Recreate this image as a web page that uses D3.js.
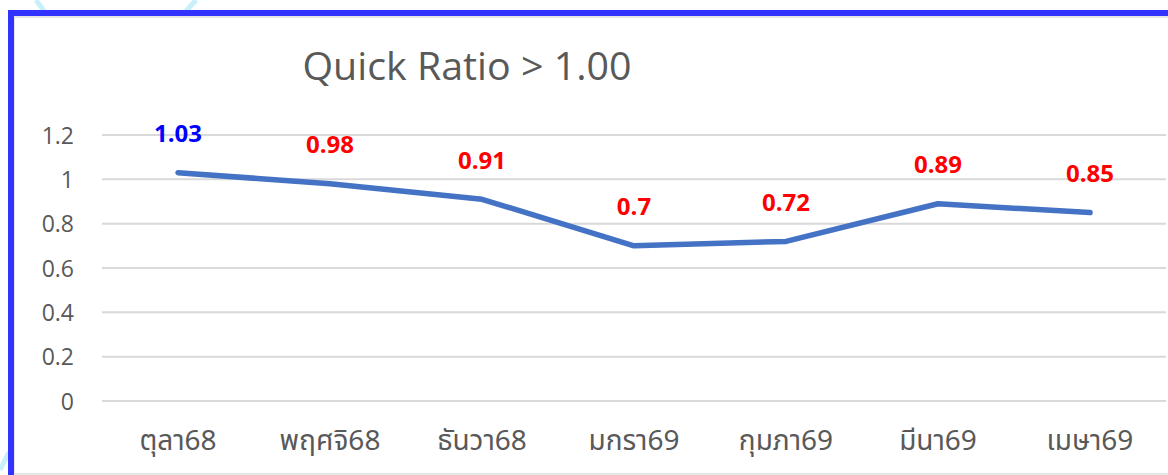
<!DOCTYPE html>
<html><head><meta charset="utf-8">
<script src="https://cdn.jsdelivr.net/npm/d3@7"></script>
<style>
html,body{margin:0;padding:0;background:#fff;}
svg{display:block;}
</style></head>
<body>
<svg id="chart" width="1168" height="475"></svg>
<script>
const categories = ["ตุลา68","พฤศจิ68","ธันวา68","มกรา69","กุมภา69","มีนา69","เมษา69"];
const values = [1.03,0.98,0.91,0.70,0.72,0.89,0.85];
const labels = ["1.03","0.98","0.91","0.7","0.72","0.89","0.85"];
const labelColors = ["#0000FF","#FF0000","#FF0000","#FF0000","#FF0000","#FF0000","#FF0000"];
const yTicks = [0,0.2,0.4,0.6,0.8,1,1.2];
const yTickLabels = ["0","0.2","0.4","0.6","0.8","1","1.2"];
const title = "Quick Ratio > 1.00";

const svg = d3.select("#chart");
const W = 1168, H = 475;

// decorative background strokes
const deco = [[[36,0],[44,11]],[[196,0],[186,11]],[[0,470],[9,452]]];
deco.forEach(d=>svg.append("path").attr("d",d3.line()(d)).attr("stroke","#c8f0fb").attr("stroke-width",5).attr("fill","none"));

// frame
svg.append("rect").attr("x",14).attr("y",16).attr("width",W).attr("height",457).attr("fill","#fff");
svg.append("path").attr("d","M14,474 V17 H1168").attr("stroke","#e6e6e6").attr("stroke-width",2).attr("fill","none");
svg.append("path").attr("d","M14,474 H1168").attr("stroke","#e6e6e6").attr("stroke-width",2).attr("fill","none");
svg.append("path").attr("d","M11,475 V13 H1168").attr("stroke","#3333FF").attr("stroke-width",6).attr("fill","none");

const x = d3.scaleBand().domain(categories).range([102,1166]);
const y = d3.scaleLinear().domain([0,1.2]).range([401,135]);

// gridlines
svg.append("g").selectAll("line").data(yTicks).join("line")
  .attr("x1",102).attr("x2",1166)
  .attr("y1",d=>y(d)).attr("y2",d=>y(d))
  .attr("stroke","#d9d9d9").attr("stroke-width",2);

// y axis labels
const yAxis = d3.axisLeft(y).tickValues(yTicks).tickFormat((d,i)=>yTickLabels[i]).tickSize(0).tickPadding(0);
const ya = svg.append("g").attr("transform","translate(74,0)").call(yAxis);
ya.select(".domain").remove();
ya.selectAll("text").attr("font-family","'Open Sans','Noto Sans',sans-serif").attr("font-size",23).attr("fill","#595959").attr("dy","0.35em");

// x axis labels
const xAxis = d3.axisBottom(x).tickSize(0).tickPadding(0);
const xa = svg.append("g").attr("transform","translate(0,440)").call(xAxis);
xa.select(".domain").remove();
xa.selectAll("text").attr("font-family","'Noto Sans','Noto Sans Thai',sans-serif").attr("font-size",28).attr("fill","#595959").attr("dy","0.35em");

// line
const line = d3.line().x((d,i)=>x(categories[i])+x.bandwidth()/2).y(d=>y(d));
svg.append("path").datum(values).attr("d",line)
  .attr("fill","none").attr("stroke","#4472C4").attr("stroke-width",5.5)
  .attr("stroke-linecap","round").attr("stroke-linejoin","round");

// data labels
svg.append("g").selectAll("text").data(values).join("text")
  .attr("x",(d,i)=>x(categories[i])+x.bandwidth()/2)
  .attr("y",d=>y(d)-39)
  .attr("dy","0.35em")
  .attr("text-anchor","middle")
  .attr("font-family","'Open Sans','Noto Sans',sans-serif")
  .attr("font-weight","bold").attr("font-size",24)
  .attr("fill",(d,i)=>labelColors[i])
  .text((d,i)=>labels[i]);

// title
svg.append("text").attr("x",467).attr("y",67).attr("dy","0.35em")
  .attr("text-anchor","middle").attr("font-family","'Open Sans','Noto Sans',sans-serif")
  .attr("font-size",38).attr("fill","#595959")
  .attr("textLength",329).attr("lengthAdjust","spacingAndGlyphs").text(title);
</script>
</body></html>
